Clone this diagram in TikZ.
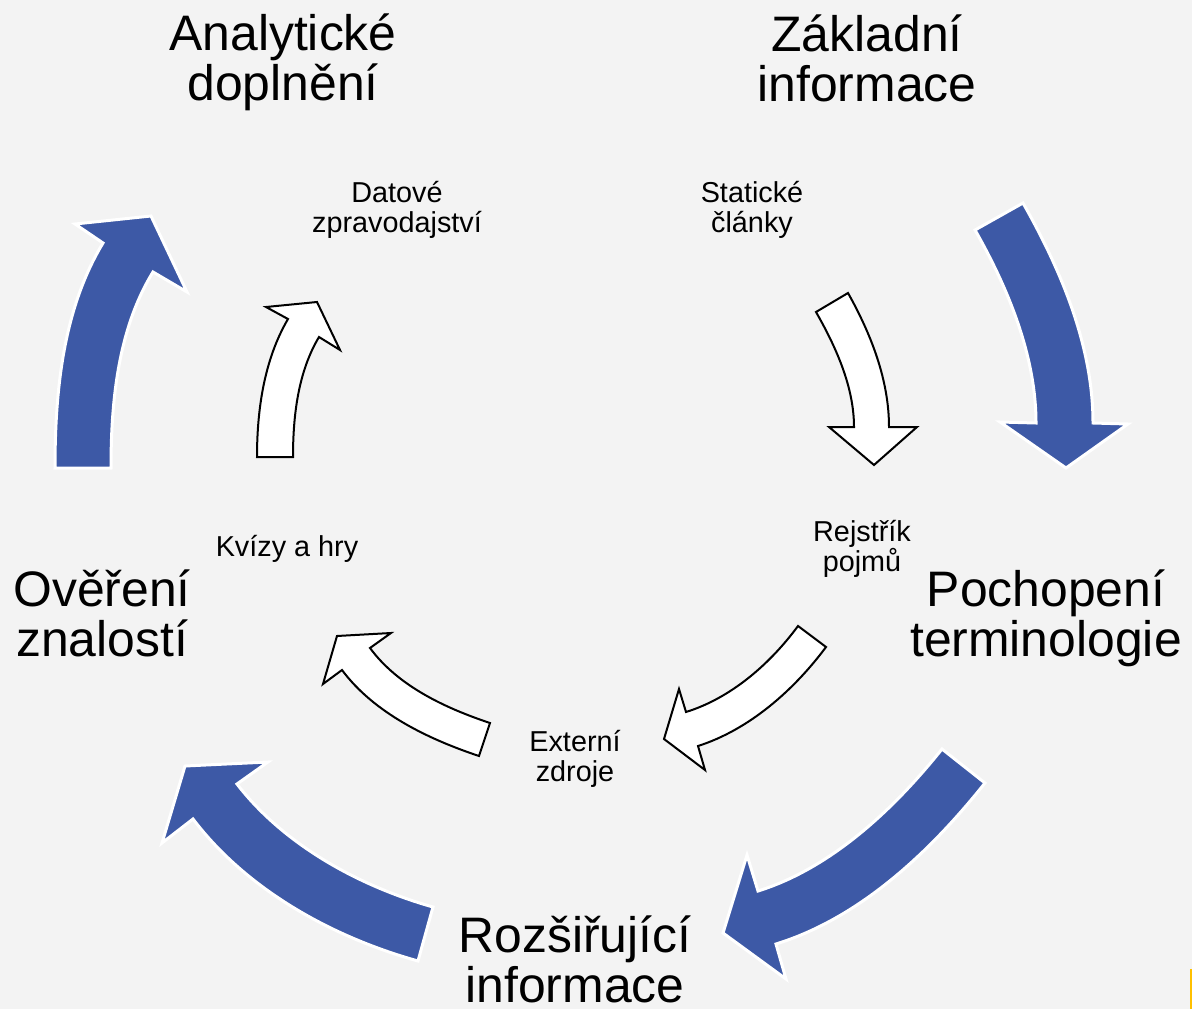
\documentclass[tikz,border=0pt]{standalone}
\usepackage{fontspec}
\setmainfont{Liberation Sans}
\definecolor{bg}{HTML}{F3F3F3}
\definecolor{arrowblue}{RGB}{61,89,166}
\definecolor{accent}{HTML}{FFC000}
\begin{document}
\begin{tikzpicture}[x=0.75pt,y=-0.75pt,
  bluearrow/.style={fill=arrowblue,draw=white,line width=2.25pt,line join=miter},
  whitearrow/.style={fill=white,draw=black,line width=1.5pt,line join=miter},
  biglabel/.style={font=\fontsize{37.4}{37.5}\selectfont,align=center,anchor=base,inner sep=0pt},
  smalllabel/.style={font=\fontsize{21.6}{22.5}\selectfont,align=center,anchor=base,inner sep=0pt}]
\fill[bg] (0,0) rectangle (1192,1009);
\useasboundingbox (0,0) rectangle (1192,1009);
\fill[accent] (1189.5,969) rectangle (1192,1009);

% outer blue arrows
\draw[bluearrow] (975,230) -- (1023,203) .. controls (1061,270) and (1093,346) .. (1093,423) -- (1128,424) -- (1066,468) -- (1000,422) -- (1036,423) .. controls (1036,356) and (1008,288) .. (975,230) -- cycle;
\draw[bluearrow] (942,749) -- (985,783) .. controls (930,852) and (860,918) .. (776,944) -- (786,979) -- (723,933) -- (747,855) -- (758,891) .. controls (831.5,868) and (894,809) .. (942,749) -- cycle;
\draw[bluearrow] (433,907) -- (418,961) .. controls (332,937) and (247,890) .. (193,819) -- (162,843) -- (185,766) -- (268,762) -- (237,784) .. controls (284,845) and (359,886) .. (433,907) -- cycle;
\draw[bluearrow] (111,468) -- (55,468) .. controls (55,391) and (63,309) .. (103,243) -- (75,224) -- (151,216) -- (187,292) -- (153,272) .. controls (118,329) and (111,401) .. (111,468) -- cycle;

% inner white arrows
\draw[whitearrow] (293,457) -- (257,457) .. controls (257,410) and (264,360) .. (288,319) -- (266,307) -- (317,302) -- (340,350) -- (319,337) .. controls (298,372) and (293,416) .. (293,457) -- cycle;
\draw[whitearrow] (816,312) -- (848,293) .. controls (871,334) and (889,380) .. (889,427) -- (917,427) -- (874,465) -- (829,427) -- (854,427) .. controls (854,387) and (836,347) .. (816,312) -- cycle;
\draw[whitearrow] (798,626) -- (826,647) .. controls (794,690) and (749.5,729.5) .. (698,746) -- (705,770) -- (664,739) -- (679,689) -- (686,712) .. controls (731,698) and (770,664) .. (798,626) -- cycle;
\draw[whitearrow] (490,723) -- (479,756) .. controls (428,739) and (374,713) .. (342,670) -- (323,684) -- (337,636) -- (391,633) -- (370,648) .. controls (398,686) and (445,708) .. (490,723) -- cycle;

% labels (anchor = baseline of last line)
\node[biglabel] (analyticke) at (283,101) {Analytické\\doplnění};
\node[biglabel] (zakladni) at (867,102) {Základní\\informace};
\node[biglabel] (pochopeni) at (1046,656) {Pochopení\\terminologie};
\node[biglabel] (rozsirujici) at (575,1002) {Rozšiřující\\informace};
\node[biglabel] (overeni) at (102,656) {Ověření\\znalostí};
\node[smalllabel] (datove) at (397,233) {Datové\\zpravodajství};
\node[smalllabel] (staticke) at (752,233) {Statické\\články};
\node[smalllabel] (rejstrik) at (862,571) {Rejstřík\\pojmů};
\node[smalllabel] (externi) at (575,781) {Externí\\zdroje};
\node[smalllabel] (kvizy) at (287,556) {Kvízy a hry};
\end{tikzpicture}
\end{document}
